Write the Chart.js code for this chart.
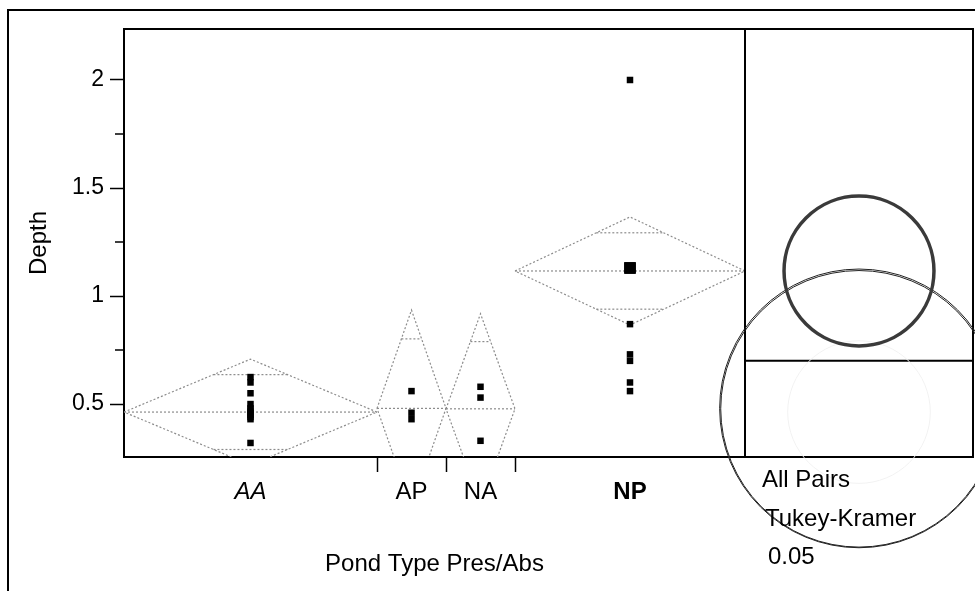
<!DOCTYPE html>
<html>
<head>
<meta charset="utf-8">
<title>Depth by Pond Type</title>
<script src="https://cdn.jsdelivr.net/npm/chart.js@4.4.0/dist/chart.umd.min.js"></script>
<style>
  html, body { margin: 0; padding: 0; background: #fff; }
  #wrap { width: 975px; height: 591px; }
</style>
</head>
<body>
<div id="wrap"><canvas id="depthChart" width="975" height="591"></canvas></div>
<script>
// --- data ---
const groups = ['AA', 'AP', 'NA', 'NP'];
const groupN = [11, 3, 3, 10];                 // x widths are proportional to n
const groupMeans = [0.463, 0.48, 0.478, 1.116];
const ciHalf = [0.245, 0.455, 0.44, 0.25];      // 95% means diamond half height

const aaDepth = [0.625, 0.60, 0.55, 0.50, 0.48, 0.47, 0.46, 0.45, 0.44, 0.43, 0.32];
const apDepth = [0.56, 0.46, 0.43];
const naDepth = [0.58, 0.53, 0.33];
const npDepth = [2.0, 1.13, 1.13, 1.13, 0.87, 0.73, 0.70, 0.60, 0.56];

const yTicks = [0.5, 0.75, 1, 1.25, 1.5, 1.75, 2];
const yMin = 0.255, yMax = 2.236;

// comparison circles (centre = mean, radius in Depth units)
const circleMeans = [0.463, 0.48, 0.478, 1.116];
const circleRadii = [0.33, 0.645, 0.64, 0.347];
const panelLine = 0.70;

const FONT = '"Liberation Sans", Arial, sans-serif';
Chart.defaults.font.family = FONT;
Chart.defaults.color = '#000';

// category edges / centres on a 0..sum(n) axis
const edges = [0];
groupN.forEach(n => edges.push(edges[edges.length - 1] + n));
const centres = groupN.map((n, i) => edges[i] + n / 2);
const boundaryTicks = edges.slice(1, -1);

const depthByGroup = [aaDepth, apDepth, naDepth, npDepth];
const points = [];
depthByGroup.forEach((arr, i) => arr.forEach(v => points.push({ x: centres[i], y: v, dup: arr.filter(w => w === v).length })));

const diamondColor = '#8c8c8c';
const lineSets = [];
groupMeans.forEach((m, i) => {
    const l = edges[i], r = edges[i + 1], c = centres[i], h = ciHalf[i];
    const base = { type: 'scatter', showLine: true, pointRadius: 0, borderColor: diamondColor,
                   borderWidth: 1.2, borderDash: [2, 2], fill: false, tension: 0 };
    lineSets.push({ ...base, data: [{x: l, y: m}, {x: c, y: m + h}, {x: r, y: m}, {x: c, y: m - h}, {x: l, y: m}] });
    lineSets.push({ ...base, data: [{x: l, y: m}, {x: r, y: m}] });
    // overlap marks at mean +/- ci/sqrt(2)
    const d = h / Math.SQRT2, f = 1 - d / h;
    const hw = (r - l) / 2 * f;
    lineSets.push({ ...base, data: [{x: c - hw, y: m + d}, {x: c + hw, y: m + d}] });
    lineSets.push({ ...base, data: [{x: c - hw, y: m - d}, {x: c + hw, y: m - d}] });
});

const panelPlugin = {
    id: 'panelPlugin',
    afterDraw(chart) {
        const { ctx, chartArea: a, scales: { y } } = chart;
        const panelRight = 973;
        ctx.save();
        ctx.strokeStyle = '#000';

        // outer frame
        ctx.lineWidth = 2;
        ctx.beginPath();
        ctx.moveTo(8, 591); ctx.lineTo(8, 10); ctx.lineTo(975, 10);
        ctx.stroke();

        // plot frame + comparison circle panel
        ctx.lineWidth = 2;
        ctx.beginPath();
        ctx.moveTo(a.left, a.top); ctx.lineTo(panelRight, a.top);
        ctx.lineTo(panelRight, a.bottom); ctx.lineTo(a.right, a.bottom);
        ctx.moveTo(a.right, a.top); ctx.lineTo(a.right, a.bottom);
        const py = y.getPixelForValue(panelLine);
        ctx.moveTo(a.right, py); ctx.lineTo(panelRight, py);
        ctx.stroke();

        // minor y ticks
        ctx.lineWidth = 1.5;
        ctx.beginPath();
        yTicks.filter(v => (v * 2) % 1 !== 0).forEach(v => {
            const yy = y.getPixelForValue(v);
            ctx.moveTo(a.left - 9, yy); ctx.lineTo(a.left, yy);
        });
        ctx.stroke();

        // comparison circles
        const cx = (a.right + panelRight) / 2;
        circleMeans.forEach((m, i) => {
            const cy = y.getPixelForValue(m);
            const rad = Math.abs(y.getPixelForValue(m + circleRadii[i]) - cy);
            ctx.beginPath();
            ctx.arc(cx, cy, rad, 0, Math.PI * 2);
            if (i === 3) { ctx.lineWidth = 3.5; ctx.strokeStyle = '#3a3a3a'; }
            else if (i === 0) { ctx.lineWidth = 1; ctx.strokeStyle = '#f2f2f2'; }
            else { ctx.lineWidth = 1; ctx.strokeStyle = '#222'; }
            ctx.stroke();
        });

        // test label
        ctx.fillStyle = '#000';
        ctx.font = '24px ' + FONT;
        ctx.textAlign = 'left';
        ctx.textBaseline = 'middle';
        ctx.fillText('All Pairs', a.right + 17, a.bottom + 23);
        ctx.fillText('Tukey-Kramer', a.right + 20, a.bottom + 62);
        ctx.fillText('0.05', a.right + 23, a.bottom + 100);
        ctx.restore();
    }
};

new Chart(document.getElementById('depthChart'), {
    type: 'scatter',
    data: {
        datasets: [
            {
                data: points,
                pointStyle: 'rect',
                backgroundColor: '#000',
                borderColor: '#000',
                borderWidth: 0,
                pointRadius: ctx => (ctx.raw && ctx.raw.dup > 1) ? 8 : 4.6,
                order: 0
            },
            ...lineSets
        ]
    },
    options: {
        responsive: false,
        devicePixelRatio: 1,
        animation: false,
        layout: { padding: { top: 29, right: 230, left: 0, bottom: 0 } },
        plugins: { legend: { display: false }, tooltip: { enabled: false } },
        scales: {
            x: {
                type: 'linear',
                min: 0,
                max: edges[edges.length - 1],
                afterFit: s => { s.height = 134; },
                afterBuildTicks: s => {
                    s.ticks = [...centres, ...boundaryTicks].sort((p, q) => p - q).map(v => ({ value: v }));
                },
                ticks: {
                    autoSkip: false,
                    maxRotation: 0,
                    padding: 6,
                    color: '#000',
                    callback: v => {
                        const i = centres.indexOf(v);
                        return i >= 0 ? groups[i] : '';
                    },
                    font: ctx => {
                        const i = centres.indexOf(ctx.tick && ctx.tick.value);
                        return {
                            size: 24,
                            style: i === 0 ? 'italic' : 'normal',
                            weight: i === 3 ? 'bold' : 'normal'
                        };
                    }
                },
                grid: {
                    drawOnChartArea: false,
                    tickLength: 15,
                    tickWidth: 1.5,
                    tickColor: ctx => boundaryTicks.includes(ctx.tick && ctx.tick.value) ? '#000' : 'rgba(0,0,0,0)'
                },
                border: { color: '#000', width: 2 },
                title: { display: true, text: 'Pond Type Pres/Abs', font: { size: 24 }, color: '#000', padding: { bottom: 12 } }
            },
            y: {
                min: yMin,
                max: yMax,
                afterFit: s => { s.width = 124; },
                afterBuildTicks: s => { s.ticks = yTicks.map(v => ({ value: v })); },
                ticks: {
                    autoSkip: false,
                    padding: 6,
                    color: '#000',
                    font: { size: 23 },
                    callback: v => ((v * 2) % 1 === 0 ? String(v) : '')
                },
                grid: {
                    drawOnChartArea: false,
                    tickLength: 14,
                    tickWidth: 1.5,
                    tickColor: ctx => ((ctx.tick && (ctx.tick.value * 2) % 1 === 0) ? '#000' : 'rgba(0,0,0,0)')
                },
                border: { color: '#000', width: 2 },
                title: { display: true, text: 'Depth', font: { size: 24 }, color: '#000', padding: { top: 25 } }
            }
        }
    },
    plugins: [panelPlugin]
});
</script>
</body>
</html>
